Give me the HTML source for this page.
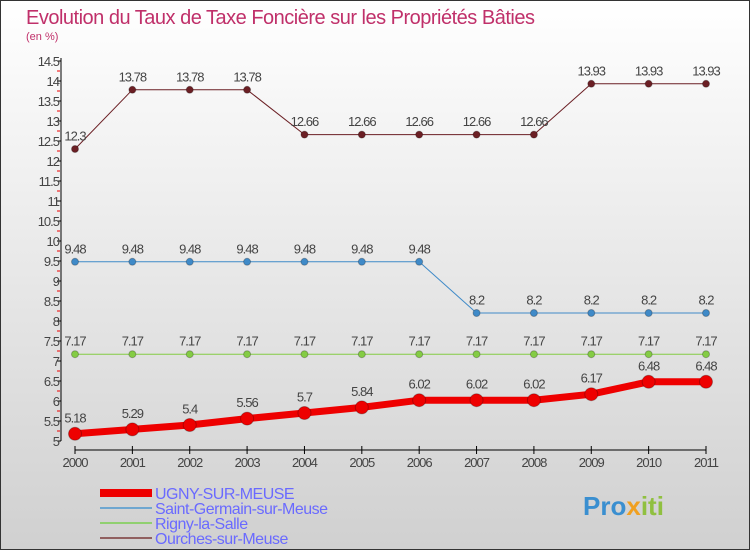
<!DOCTYPE html>
<html><head><meta charset="utf-8"><style>
body{margin:0;width:750px;height:550px;overflow:hidden}
svg{display:block;font-family:"Liberation Sans","DejaVu Sans",sans-serif}
</style></head><body>
<svg width="750" height="550">
<defs><linearGradient id="bg" x1="0" y1="0" x2="0" y2="1"><stop offset="0" stop-color="#ffffff"/><stop offset="1" stop-color="#d0d0d0"/></linearGradient></defs>
<rect x="0.5" y="0.5" width="749" height="549" fill="url(#bg)" stroke="#333"/>
<text x="26" y="24" font-size="20" fill="#c0306a" letter-spacing="-0.5">Evolution du Taux de Taxe Foncière sur les Propriétés Bâties</text>
<text x="26" y="40" font-size="11" fill="#c0306a">(en %)</text>
<g id="axes"></g><g id="series"></g>
<g>
<rect x="100" y="489" width="52" height="8" fill="#ee0000"/>
<text x="155" y="499" font-size="16" fill="#6a6aff" letter-spacing="-0.5">UGNY-SUR-MEUSE</text>
<rect x="100" y="507" width="52" height="2" fill="#6fa7d0"/>
<text x="155" y="514" font-size="16" fill="#6a6aff" letter-spacing="-0.5">Saint-Germain-sur-Meuse</text>
<rect x="100" y="522" width="52" height="2" fill="#90d070"/>
<text x="155" y="529" font-size="16" fill="#6a6aff" letter-spacing="-0.5">Rigny-la-Salle</text>
<rect x="100" y="537" width="52" height="2" fill="#906060"/>
<text x="155" y="544" font-size="16" fill="#6a6aff" letter-spacing="-0.5">Ourches-sur-Meuse</text>
</g>
<text x="583" y="515" font-size="26" font-weight="bold" fill="#3a8fd0">Pro<tspan fill="#f0a020">x</tspan><tspan fill="#90c040">iti</tspan></text>
</svg>
<script>
const years=["2000","2001","2002","2003","2004","2005","2006","2007","2008","2009","2010","2011"];
const yTicks=[5,5.5,6,6.5,7,7.5,8,8.5,9,9.5,10,10.5,11,11.5,12,12.5,13,13.5,14,14.5];
const ugny=[5.18,5.29,5.4,5.56,5.7,5.84,6.02,6.02,6.02,6.17,6.48,6.48];
const saintGermain=[9.48,9.48,9.48,9.48,9.48,9.48,9.48,8.2,8.2,8.2,8.2,8.2];
const rigny=[7.17,7.17,7.17,7.17,7.17,7.17,7.17,7.17,7.17,7.17,7.17,7.17];
const ourches=[12.3,13.78,13.78,13.78,12.66,12.66,12.66,12.66,12.66,13.93,13.93,13.93];
const NS="http://www.w3.org/2000/svg";
const xs=i=>75+i*(631/11);
const ys=v=>441-(v-5)*40;
function mk(t,a,p){const e=document.createElementNS(NS,t);for(const k in a)e.setAttribute(k,a[k]);p.appendChild(e);return e;}
const ax=document.getElementById('axes');
let yl=mk('line',{x1:61,y1:58,x2:61,y2:441,stroke:'#000'},ax);


yTicks.forEach(v=>{
 mk('line',{x1:57,x2:61,y1:ys(v),y2:ys(v),stroke:'#000'},ax);
 if(v<14.5)mk('line',{x1:57,x2:60,y1:ys(v+0.25),y2:ys(v+0.25),stroke:'#e00'},ax);
 const t=mk('text',{x:59,y:ys(v)+5,'font-size':13,'text-anchor':'end',fill:'#444','letter-spacing':'-1'},ax);
 t.textContent=String(v);
 
 
});
let xl=mk('line',{x1:75,y1:450,x2:706,y2:450,stroke:'#000'},ax);


years.forEach((y,i)=>{
 mk('line',{x1:xs(i),x2:xs(i),y1:446,y2:454,stroke:'#000'},ax);
 const t=mk('text',{x:xs(i),y:467,'font-size':13,'text-anchor':'middle',fill:'#444','letter-spacing':'-1'},ax);
 t.textContent=y;
 
 
});
const sg=document.getElementById('series');
function series(vals,color,w,r,name){
 const g=mk('g',{},sg);
 
 
 mk('polyline',{points:vals.map((v,i)=>xs(i)+','+ys(v)).join(' '),fill:'none',stroke:color,'stroke-width':w},g);
 vals.forEach((v,i)=>{
  const c=mk('circle',{cx:xs(i),cy:ys(v),r:r,fill:color,stroke:'rgba(0,0,0,0.25)'},g);
  
  
  const t=mk('text',{x:xs(i),y:ys(v)-r-5,'font-size':13,'text-anchor':'middle',fill:'#444','letter-spacing':'-1'},g);
  t.textContent=String(v);
  
  
 });
}
series(ourches,'#6b1f24',1,3.5,'series-ourches');
series(saintGermain,'#3f8ac8',1,3.5,'series-saint-germain');
series(rigny,'#84cc44',1,3.5,'series-rigny');
series(ugny,'#ee0000',7,6.5,'series-ugny');
</script>
</body></html>
